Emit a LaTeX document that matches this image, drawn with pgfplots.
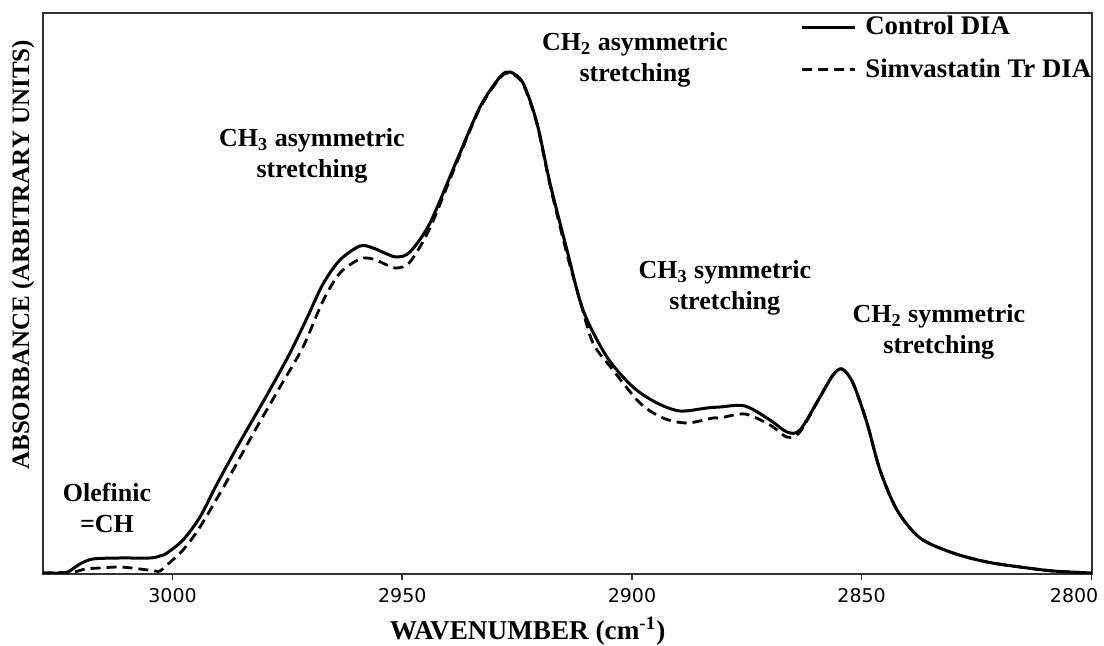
\documentclass[border=0pt]{standalone}
\usepackage{fontspec}
\setmainfont{Liberation Serif}
\newfontfamily\ticksfont{DejaVu Sans}
\usepackage{pgfplots}
\pgfplotsset{compat=1.18}

% C-H stretching region of the infrared spectrum (absorbance, arbitrary units)
\pgfplotstableread{
wn      absorb
3028.21 0.002
3024.51 0.002
3022.77 0.004
3020.16 0.020
3017.33 0.030
3011.45 0.032
3004.92 0.032
3002.74 0.036
3001.22 0.042
2997.73 0.068
2994.03 0.114
2990.33 0.180
2985.33 0.264
2979.45 0.358
2974.44 0.442
2970.74 0.512
2967.26 0.580
2963.56 0.628
2959.21 0.656
2956.38 0.652
2953.33 0.640
2951.15 0.634
2948.32 0.644
2943.97 0.702
2938.09 0.828
2933.08 0.934
2928.73 0.994
2926.55 1.004
2923.72 0.982
2920.68 0.902
2917.85 0.782
2914.15 0.648
2910.66 0.528
2905.44 0.434
2899.78 0.374
2894.55 0.342
2889.55 0.326
2883.67 0.332
2880.84 0.334
2875.40 0.336
2869.96 0.308
2866.26 0.284
2863.43 0.288
2859.07 0.354
2856.24 0.398
2854.28 0.410
2851.89 0.382
2848.84 0.302
2846.01 0.208
2842.31 0.128
2837.30 0.072
2830.12 0.042
2822.72 0.024
2815.54 0.014
2808.35 0.006
2799.86 0.002
}\control

\pgfplotstableread{
wn      absorb
3028.21 0.002
3021.68 0.004
3019.07 0.010
3015.80 0.012
3011.45 0.014
3007.10 0.010
3003.83 0.006
3002.74 0.006
3001.22 0.018
2997.73 0.048
2994.03 0.094
2988.16 0.186
2982.50 0.280
2976.62 0.374
2971.61 0.454
2967.26 0.546
2963.56 0.602
2959.21 0.630
2956.38 0.630
2953.33 0.618
2951.15 0.612
2948.32 0.624
2943.97 0.692
2938.09 0.824
2933.08 0.932
2928.73 0.992
2926.55 1.002
2923.72 0.980
2920.68 0.900
2917.85 0.778
2914.15 0.640
2911.32 0.548
2908.49 0.462
2904.13 0.408
2898.26 0.342
2893.25 0.312
2888.02 0.302
2882.36 0.312
2880.84 0.312
2875.40 0.320
2869.96 0.298
2866.26 0.274
2863.43 0.284
2859.07 0.354
2856.24 0.398
2854.28 0.410
2851.89 0.382
2848.84 0.302
2846.01 0.208
2842.31 0.128
2837.30 0.072
2830.12 0.042
2822.72 0.024
2815.54 0.014
2808.35 0.006
2799.86 0.002
}\simva

\begin{document}
\begin{tikzpicture}
\path[use as bounding box] (0,0) rectangle (552pt,323pt);
\begin{axis}[
  at={(21.5pt,36pt)}, anchor=south west,
  scale only axis, width=524.5pt, height=280.5pt,
  x dir=reverse,
  xmin=2799.86, xmax=3028.21,
  ymin=0, ymax=1.122,
  axis line style={black!80, line width=1pt},
  xtick={2800,2850,2900,2950,3000},
  % the last label is pulled left so that it stays inside the frame
  xticklabels={\hspace*{7pt}\makebox[0pt][r]{2800},2850,2900,2950,3000},
  ytick=\empty,
  xtick pos=bottom, tick align=outside,
  major tick length=3pt,
  tick style={black!80, line width=0.8pt},
  /pgf/number format/assume math mode=true,
  xticklabel style={font=\ticksfont\fontsize{9.5}{10}\selectfont, yshift=-0.5pt},
  xlabel={WAVENUMBER (cm\textsuperscript{-1})},
  xlabel style={at={(axis description cs:0.462,-0.1016)}, anchor=center,
                font=\bfseries\fontsize{13.6}{15}\selectfont},
  ylabel={ABSORBANCE (ARBITRARY UNITS)},
  ylabel style={at={(axis description cs:-0.019,0.569)}, anchor=center,
                font=\bfseries\fontsize{12.5}{15}\selectfont},
  legend image code/.code={\draw[#1] (0pt,0pt) -- (26.5pt,0pt);},
  legend cell align=left,
  legend style={at={(rel axis cs:0.7216,1)}, anchor=north west,
                yshift=-0.5pt, draw=none, fill=none, inner sep=0pt,
                font=\bfseries\fontsize{13.4}{15}\selectfont,
                row sep=8.5pt, column sep=3.5pt,
                nodes={inner sep=1pt}},
]
\addplot[black, line width=1.5pt, smooth, tension=0.5] table[x=wn, y=absorb] {\control};
\addlegendentry{Control DIA}
\addplot[black, line width=1.4pt, smooth, tension=0.5, dash pattern=on 5pt off 3pt] table[x=wn, y=absorb] {\simva};
\addlegendentry{Simvastatin Tr DIA}

\begin{scope}[every node/.style={font=\bfseries\fontsize{13}{15.5}\selectfont, align=center}]
\node at (rel axis cs:0.061,0.1176) {Olefinic\\=CH};
\node at (rel axis cs:0.2564,0.745) {CH\textsubscript{3} asymmetric\\stretching};
\node at (rel axis cs:0.5643,0.916) {CH\textsubscript{2} asymmetric\\stretching};
\node at (rel axis cs:0.650,0.5098) {CH\textsubscript{3} symmetric\\stretching};
\node at (rel axis cs:0.854,0.431) {CH\textsubscript{2} symmetric\\stretching};
\end{scope}
\end{axis}
\end{tikzpicture}
\end{document}
